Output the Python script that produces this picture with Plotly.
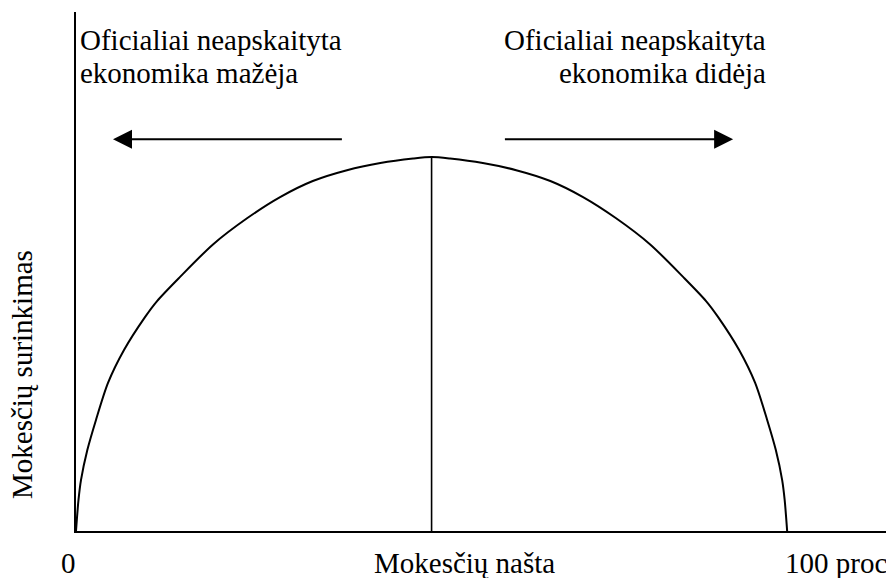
import plotly.graph_objects as go

# ---- data ----
tax_burden = [0, 0.35, 0.70, 1.6, 2.81, 4.5, 6.75, 9.7, 11.4, 14.6, 19.3, 24.1, 28.7, 33.3,
              38.1, 42.8, 47.4, 50.0,
              52.6, 57.2, 61.9, 66.7, 71.3, 75.9, 80.7, 85.4, 88.6, 90.3, 93.25, 95.5,
              97.19, 98.4, 99.3, 99.65, 100]
revenue = [0, 8.3, 13.6, 21.7, 29.7, 39.6, 48.4, 57.2, 61.5, 67.9, 76.7, 83.7, 89.3, 93.6,
           96.5, 98.4, 99.6, 100,
           99.6, 98.4, 96.5, 93.6, 89.3, 83.7, 76.7, 67.9, 61.5, 57.2, 48.4, 39.6,
           29.7, 21.7, 13.6, 8.3, 0]
peak_x = [50, 50]
peak_y = [0, 100]

# arrows: (tail x, head x, y)
arrow_left = (37.6, 5.2, 104.8)
arrow_right = (60.1, 92.4, 104.8)

left_lines = ["Oficialiai neapskaityta", "ekonomika mažėja"]
right_lines = ["Oficialiai neapskaityta", "ekonomika didėja"]
y_title = "Mokesčių surinkimas"
x_labels = ["0", "Mokesčių našta", "100 proc"]

W, H = 886, 578
ML, MR, MT, MB = 76, 0, 12, 47
FONT = "Liberation Serif"
FS = 29


def px_x(p):
    return (p - ML) / (W - ML - MR)


def px_y(p):
    return (H - MB - p) / (H - MT - MB)


fig = go.Figure()
fig.add_trace(go.Scatter(x=tax_burden, y=revenue, mode="lines",
                         line=dict(color="black", width=2, shape="spline", smoothing=0.8),
                         hoverinfo="skip", showlegend=False))
fig.add_trace(go.Scatter(x=peak_x, y=peak_y, mode="lines",
                         line=dict(color="black", width=1.6),
                         hoverinfo="skip", showlegend=False))

ann = []
for tail, head, yy in (arrow_left, arrow_right):
    ann.append(dict(x=head, y=yy, ax=tail, ay=yy, xref="x", yref="y", axref="x", ayref="y",
                    showarrow=True, arrowhead=2, arrowsize=1.9, arrowwidth=2,
                    arrowcolor="black", text=""))

font = dict(family=FONT, size=FS, color="black")
# left block
ann.append(dict(text=left_lines[0], x=px_x(78), y=px_y(40), xref="paper", yref="paper",
                xanchor="left", yanchor="middle", showarrow=False, font=font))
ann.append(dict(text=left_lines[1], x=px_x(78), y=px_y(73), xref="paper", yref="paper",
                xanchor="left", yanchor="middle", showarrow=False, font=font))
# right block
ann.append(dict(text=right_lines[0], x=px_x(768), y=px_y(40), xref="paper", yref="paper",
                xanchor="right", yanchor="middle", showarrow=False, font=font))
ann.append(dict(text=right_lines[1], x=px_x(768), y=px_y(73), xref="paper", yref="paper",
                xanchor="right", yanchor="middle", showarrow=False, font=font))
# bottom labels
ann.append(dict(text=x_labels[0], x=px_x(68), y=px_y(563), xref="paper", yref="paper",
                xanchor="center", yanchor="middle", showarrow=False, font=font))
ann.append(dict(text=x_labels[1], x=px_x(464), y=px_y(563), xref="paper", yref="paper",
                xanchor="center", yanchor="middle", showarrow=False, font=font))
ann.append(dict(text=x_labels[2], x=px_x(783), y=px_y(563), xref="paper", yref="paper",
                xanchor="left", yanchor="middle", showarrow=False, font=font))
# y title
ann.append(dict(text=y_title, x=px_x(22), y=px_y(375), xref="paper", yref="paper",
                xanchor="center", yanchor="middle", textangle=-90, showarrow=False, font=font))

fig.update_layout(
    width=W, height=H,
    margin=dict(l=ML, r=MR, t=MT, b=MB, pad=0),
    paper_bgcolor="white", plot_bgcolor="white",
    font=dict(family=FONT),
    annotations=ann,
    xaxis=dict(range=[0, 113.9], showgrid=False, zeroline=False, showticklabels=False,
               ticks="", showline=True, linecolor="black", linewidth=2, fixedrange=True),
    yaxis=dict(range=[0, 138.8], showgrid=False, zeroline=False, showticklabels=False,
               ticks="", showline=True, linecolor="black", linewidth=2, fixedrange=True),
)

fig.write_html("out.html", config={"displayModeBar": False},
               post_script="document.body.style.margin='0';document.body.style.padding='0';")
